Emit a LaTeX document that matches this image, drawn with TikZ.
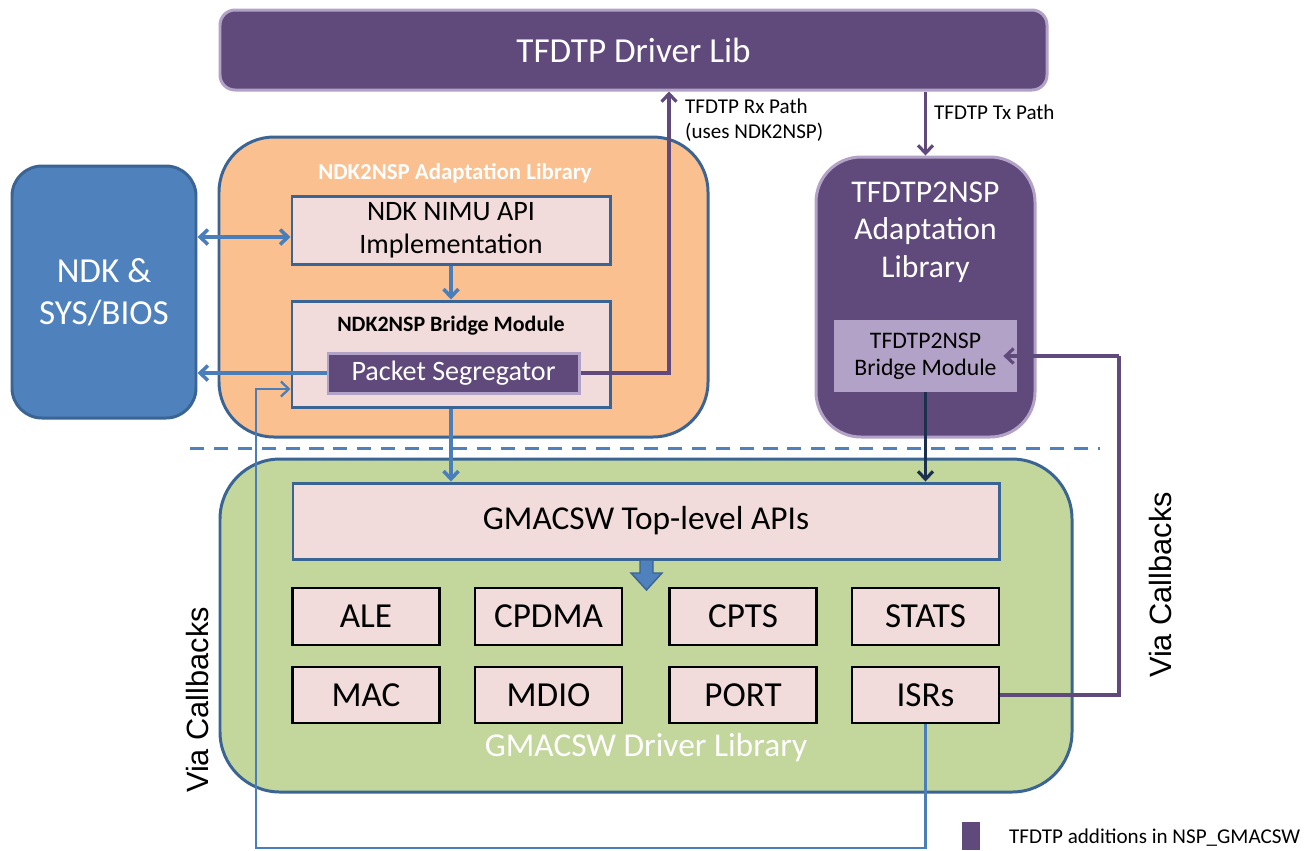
\documentclass[tikz,border=0pt]{standalone}
\usepackage{fontspec}
\setmainfont{Carlito}
\newfontfamily\arialfont{Liberation Sans}
\usepackage{tikz}
\usetikzlibrary{arrows.meta,calc}

\definecolor{tfpurple}{HTML}{604A7B}
\definecolor{tflav}{HTML}{B3A2C7}
\definecolor{ndkblue}{HTML}{4F81BD}
\definecolor{libline}{HTML}{3A6494}
\definecolor{orangefill}{HTML}{FAC090}
\definecolor{greenfill}{HTML}{C3D69B}
\definecolor{pinkfill}{HTML}{F2DCDB}
\definecolor{arrblue}{HTML}{4A7EBB}
\definecolor{navy}{HTML}{1B2F4E}

\tikzset{
  lib/.style={draw=libline, line width=1.7pt, inner sep=0pt},
  purplebox/.style={fill=tfpurple, draw=tflav, line width=1.7pt, text=white, inner sep=0pt},
  pinkbox/.style={fill=pinkfill, draw=libline, line width=1.7pt, inner sep=0pt},
  blockbox/.style={fill=pinkfill, draw=black, line width=1.2pt, inner sep=0pt,
    minimum width=147*0.02cm, font=\fontsize{20}{24}\selectfont},
  arrtip/.style={-{Straight Barb[length=4.5pt,width=8.5pt]}},
  bluearr/.style={draw=arrblue, line width=2pt, arrtip},
  purparr/.style={draw=tfpurple, line width=1.8pt, arrtip},
}

\begin{document}
\begin{tikzpicture}[x=0.02cm, y=-0.02cm]
  \useasboundingbox (0,0) rectangle (1314,850);

  % top driver library
  \node[purplebox, rounded corners=0.3cm, minimum width=827*0.02cm, minimum height=80*0.02cm,
    font=\fontsize{20}{24}\selectfont] (drvlib) at (633.5,50) {TFDTP Driver Lib};

  % NDK side
  \node[fill=ndkblue, draw=libline, line width=1.7pt, rounded corners=0.6cm, text=white,
    minimum width=184*0.02cm, minimum height=252*0.02cm, align=center,
    font=\fontsize{20}{24}\selectfont] (ndk) at (104,292) {NDK \&\\SYS/BIOS};

  \node[lib, fill=orangefill, rounded corners=1.1cm, minimum width=489*0.02cm,
    minimum height=300*0.02cm] (ndkad) at (463.5,287) {};
  \node[text=white, font=\fontsize{13}{15}\selectfont\bfseries] (ndkadlbl) at (455,173)
    {NDK2NSP Adaptation Library};
  \node[pinkbox, minimum width=318*0.02cm, minimum height=68*0.02cm, align=center,
    font=\fontsize{16}{19}\selectfont] (nimu) at (451,230) {NDK NIMU API\\Implementation};
  \node[pinkbox, minimum width=318*0.02cm, minimum height=106*0.02cm] (ndkbr) at (451,354) {};
  \node[font=\fontsize{12.5}{15}\selectfont\bfseries] (ndkbrlbl) at (451,326) {NDK2NSP Bridge Module};
  \node[purplebox, minimum width=251*0.02cm, minimum height=40*0.02cm,
    font=\fontsize{16}{19}\selectfont] (pseg) at (453.5,373) {Packet Segregator};

  % TFDTP adaptation
  \node[purplebox, rounded corners=0.9cm, minimum width=219*0.02cm,
    minimum height=280*0.02cm] (tfad) at (925.5,297) {};
  \node[text=white, align=center, font=\fontsize{18}{21.3}\selectfont] (tfadlbl) at (925.5,232)
    {TFDTP2NSP\\Adaptation\\Library};
  \node[fill=tflav, minimum width=183*0.02cm, minimum height=72*0.02cm, inner sep=0pt,
    align=center, font=\fontsize{13.5}{15.4}\selectfont] (tfbr) at (925.5,356)
    {TFDTP2NSP\\Bridge Module};

  % separator
  \coordinate (sepL) at (190,448);
  \coordinate (sepR) at (1100,448);
  \draw[ndkblue, line width=1.7pt, dash pattern=on 8pt off 5.6pt] (sepL) -- (sepR);

  % GMACSW driver library
  \node[lib, fill=greenfill, rounded corners=1.2cm, minimum width=852*0.02cm,
    minimum height=333*0.02cm] (gmlib) at (646,625.5) {};
  \node[text=white, font=\fontsize{19}{23}\selectfont] (gmlbl) at (646,748) {GMACSW Driver Library};
  \node[pinkbox, minimum width=706*0.02cm, minimum height=76*0.02cm,
    font=\fontsize{19}{23}\selectfont] (top) at (646,521) {GMACSW Top-level APIs};

  \foreach \n/\t/\x in {ale/ALE/366, cpdma/CPDMA/548.5, cpts/CPTS/743, stats/STATS/925.5}
    \node[blockbox, minimum height=57*0.02cm] (\n) at (\x,616.5) {\t};
  \foreach \n/\t/\x in {mac/MAC/366, mdio/MDIO/548.5, port/PORT/743, isrs/ISRs/925.5}
    \node[blockbox, minimum height=56*0.02cm] (\n) at (\x,695) {\t};

  % block arrow
  \filldraw[fill=ndkblue, draw=libline, line width=0.8pt]
    (640,560) -- (653,560) -- (653,573) -- (662,573) -- (646.5,590) -- (631,573) -- (640,573) -- cycle;

  % connectors
  \coordinate (nimuin) at ($(nimu.west)+(0,7)$);
  \draw[bluearr, {Straight Barb[length=4.5pt,width=8.5pt]}-{Straight Barb[length=4.5pt,width=8.5pt]}]
    (nimuin -| ndk.east) -- (nimuin);
  \draw[bluearr] (nimu.south) -- (ndkbr.north);
  \draw[bluearr] (pseg.west) -- (pseg.west -| ndk.east);
  \draw[bluearr] (ndkbr.south) -- (ndkbr.south |- top.north);
  \coordinate (loopL) at (256,848);
  \coordinate (brin) at ($(ndkbr.west)+(0,35)$);
  \draw[draw=arrblue, line width=1.3pt, arrtip] (isrs.south) |- (loopL) |- (brin);

  \draw[purparr] (pseg.east) -| ($(drvlib.south)+(35.5,0)$);
  \node[anchor=west, align=left, font=\fontsize{12}{14}\selectfont] (rxlbl) at (679,120)
    {TFDTP Rx Path\\(uses NDK2NSP)};
  \draw[purparr] (drvlib.south -| tfad.north) -- (tfad.north);
  \node[anchor=west, font=\fontsize{12}{14}\selectfont] (txlbl) at (928,112) {TFDTP Tx Path};

  \draw[draw=navy, line width=1.8pt, arrtip] (tfbr.south) -- (tfbr.south |- top.north);
  \coordinate (cbR) at (1119,695);
  \coordinate (cbTop) at (1119,356);
  \coordinate (tfbrin) at ($(tfbr.east)+(-14,0)$);
  \draw[draw=tfpurple, line width=1.8pt, line join=miter] (isrs.east) -- (cbR) -- (cbTop);
  \draw[purparr] (cbTop) -- (tfbrin);

  % callback labels
  \node[rotate=90, font=\arialfont\fontsize{17.5}{21}\selectfont] (cbleft) at (198,700) {Via Callbacks};
  \node[rotate=90, font=\arialfont\fontsize{17.5}{21}\selectfont] (cbright) at (1160,585) {Via Callbacks};

  % legend
  \fill[tfpurple] (962,822) rectangle (980,850);
  \node[anchor=west, font=\fontsize{12}{14}\selectfont] (legend) at (1003,838)
    {TFDTP additions in NSP\_GMACSW};
\end{tikzpicture}
\end{document}
